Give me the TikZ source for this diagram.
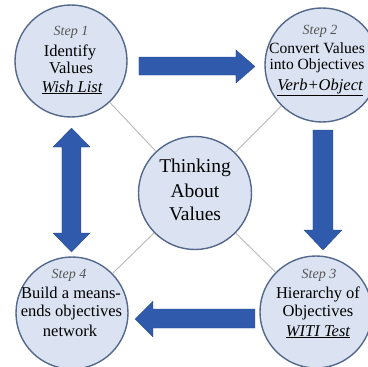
\documentclass[tikz,border=0pt]{standalone}
\usepackage{fontspec}
\setmainfont{Liberation Serif}
\definecolor{discblue}{RGB}{219,227,242}
\definecolor{ringblue}{RGB}{84,104,140}
\definecolor{arrowblue}{RGB}{48,90,172}
\definecolor{spokegray}{RGB}{185,185,185}
\definecolor{steptext}{RGB}{85,85,85}
\begin{document}
\begin{tikzpicture}[x=1pt,y=-1pt,
  disc/.style={circle, draw=ringblue, line width=1.4pt, fill=discblue,
    minimum size=#1, inner sep=0pt},
  spoke/.style={draw=spokegray, line width=0.9pt},
  blockarrow/.style={fill=arrowblue, draw=arrowblue!80!black, line width=0.3pt},
  steplbl/.style={anchor=base, inner sep=0pt, text=steptext,
    font=\fontsize{14}{16}\selectfont\itshape},
  body/.style={anchor=base, inner sep=0pt, text=black,
    font=\fontsize{16.5}{19}\selectfont},
  narrowbody/.style={body, font=\fontsize{15.6}{19}\selectfont},
  core/.style={anchor=base, inner sep=0pt, text=black,
    font=\fontsize{19.5}{23}\selectfont}
]
\useasboundingbox (0,0) rectangle (368,367);
\clip (0,0) rectangle (368,367);
\fill[white] (0,0) rectangle (368,367);

% circles
\node[disc=112pt] (c1) at (71,61) {};
\node[disc=114pt] (c2) at (322,65) {};
\node[disc=112pt] (c3) at (316,312) {};
\node[disc=112pt] (c4) at (72,313) {};
\node[disc=113pt] (cc) at (195,193) {};

% spokes between the centre and each step
\path[spoke] (c1) -- (cc);
\path[spoke] (c2) -- (cc);
\path[spoke] (c3) -- (cc);
\path[spoke] (c4) -- (cc);

% block arrows
\path[blockarrow] (139,57) -- (236,57) -- (236,50) -- (255,66.5) -- (236,83)
  -- (236,75) -- (139,75) -- cycle;
\path[blockarrow] (313,130) -- (333,130) -- (333,230) -- (342,230) -- (323,250)
  -- (304,230) -- (313,230) -- cycle;
\path[blockarrow] (255,309) -- (255,328) -- (153,328) -- (153,337) -- (135,319)
  -- (153,301) -- (153,309) -- cycle;
\path[blockarrow] (71.5,128) -- (90,147) -- (81,147) -- (81,233) -- (90,233)
  -- (71.5,252) -- (53,233) -- (62,233) -- (62,147) -- (53,147) -- cycle;

% step 1
\node[steplbl] (s1) at (71,35) {Step 1};
\node[body] (t1a) at (70,56) {Identify};
\node[body] (t1b) at (71,73) {Values};
\node[body] (t1c) at (72,92) {\underline{\itshape Wish List}};

% step 2
\node[steplbl] (s2) at (320,34) {Step 2};
\node[narrowbody] (t2a) at (317,53) {Convert Values};
\node[narrowbody] (t2b) at (317,69.5) {into Objectives};
\node[body] (t2c) at (320,90.5) {\underline{\itshape Verb+Object}};

% step 3
\node[steplbl] (s3) at (319,278) {Step 3};
\node[body] (t3a) at (318,298) {Hierarchy of};
\node[body] (t3b) at (318,316) {Objectives};
\node[body] (t3c) at (318,336) {\underline{\itshape WITI Test}};

% step 4
\node[steplbl] (s4) at (69,278) {Step 4};
\node[body] (t4a) at (71,298.5) {Build a means-};
\node[body] (t4b) at (71.5,316) {ends objectives};
\node[body] (t4c) at (70,336) {network};

% centre
\node[core] (k1) at (195,172) {Thinking};
\node[core] (k2) at (195,197) {About};
\node[core] (k3) at (195,220) {Values};
\end{tikzpicture}
\end{document}
